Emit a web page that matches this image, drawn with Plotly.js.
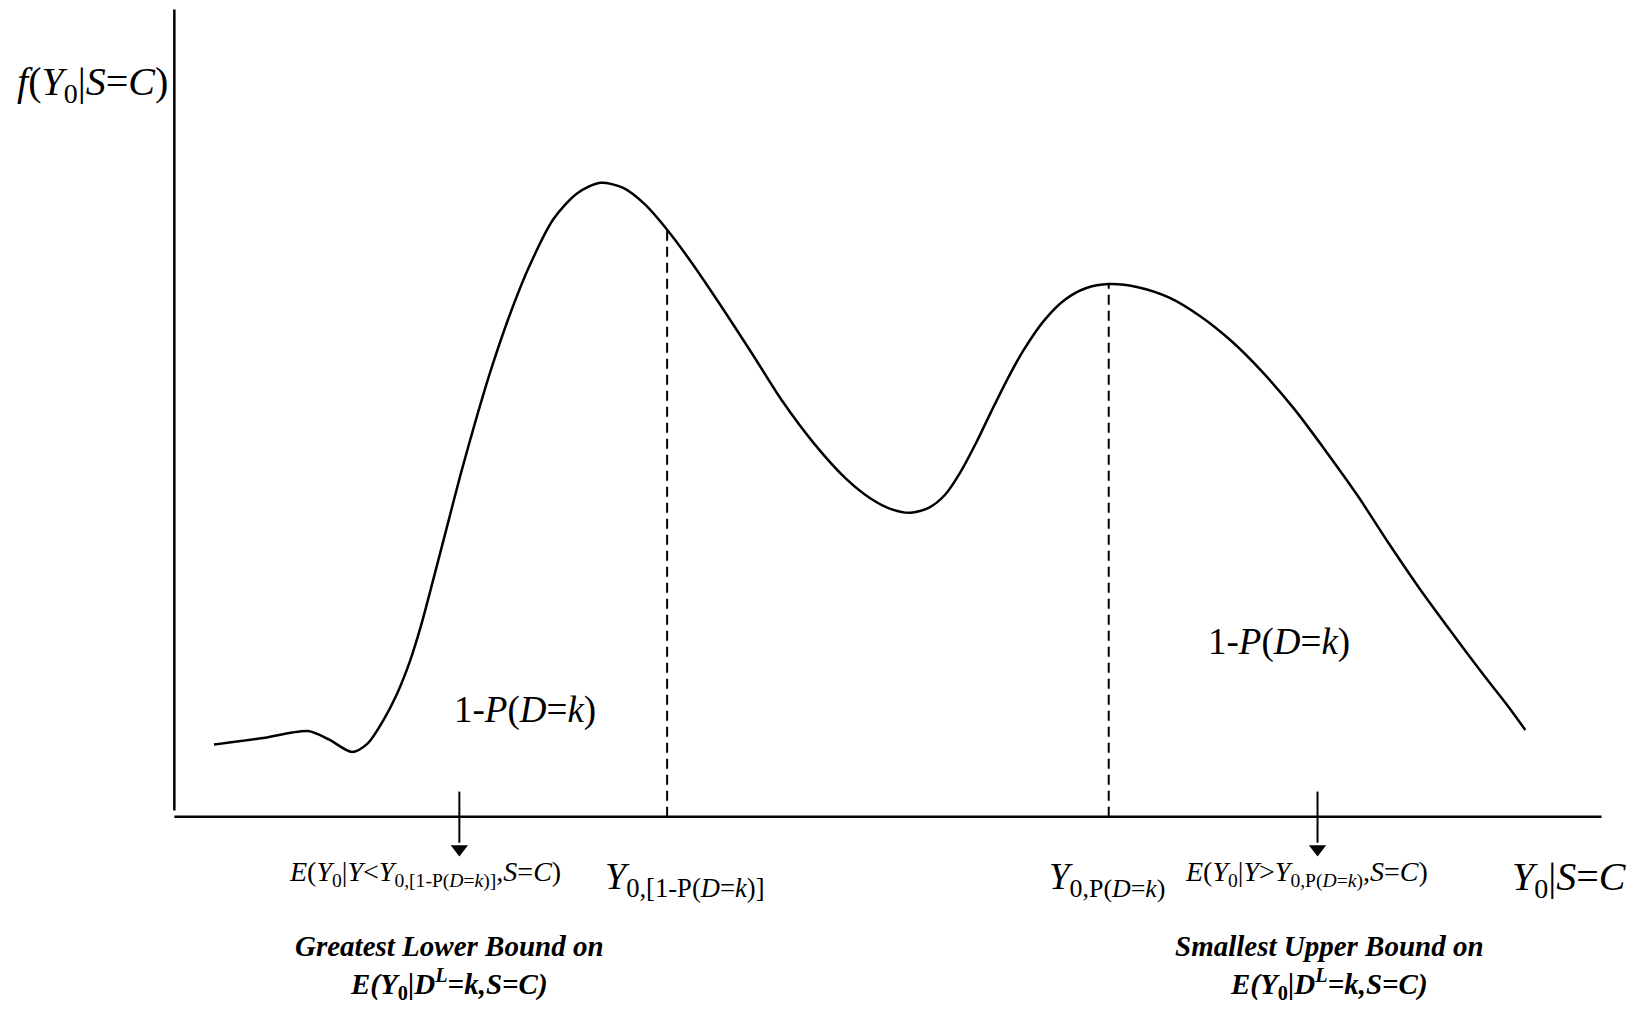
<!DOCTYPE html>
<html>
<head>
<meta charset="utf-8">
<script src="https://cdn.plot.ly/plotly-3.0.1.min.js"></script>
<style>html,body{margin:0;padding:0;background:#fff;}#chart{width:1637px;height:1013px;}</style>
</head>
<body>
<div id="chart"></div>
<script>
// Density curve f(Y0|S=C) (x: outcome, y: density)
const curveX = [38, 83, 128, 148, 170, 185, 200, 213, 225, 236, 248, 261, 274, 288, 303, 320, 340, 363, 386, 408, 430, 451, 472, 493, 523, 553, 583, 613, 643, 668, 688, 705, 723, 738, 753, 768, 783, 798, 813, 833, 853, 873, 895, 923, 953, 983, 1013, 1043, 1073, 1103, 1133, 1163, 1193, 1223, 1253, 1278, 1294];
const curveY = [69, 75, 82, 74, 62, 70, 92, 117, 147, 182, 227, 277, 327, 377, 427, 477, 527, 572, 597, 607, 602, 586, 562, 534, 490, 444, 397, 357, 324, 304, 294, 291, 296, 308, 330, 358, 389, 419, 446, 475, 495, 506, 510, 507, 497, 479, 455, 425, 390, 350, 308, 262, 218, 177, 137, 105, 83];

// Quantile markers (dashed verticals) and arrow positions
const dashX = [472, 895];
const dashTop = [562, 510];
const arrowX = [273, 1095];
const arrowTop = 24;
const arrowBottom = -25;
const arrowHead = -31;

// Axis extents
const axisXEnd = 1367;
const axisYTop = 773;
const axisYBottom = 6;

// Labels
const yAxisLabel = '<i>f</i>(<i>Y</i><sub>0</sub>|<i>S</i>=<i>C</i>)';
const xAxisLabel = '<i>Y</i><sub>0</sub>|<i>S</i>=<i>C</i>';
const massLabel = '1-<i>P</i>(<i>D</i>=<i>k</i>)';
const quantileLabels = ['<i>Y</i><sub>0,[1-P(<i>D</i>=<i>k</i>)]</sub>', '<i>Y</i><sub>0,P(<i>D</i>=<i>k</i>)</sub>'];
const expectLabels = [
  '<i>E</i>(<i>Y</i><sub>0</sub>|<i>Y</i>&lt;<i>Y</i><sub>0,[1-P(<i>D</i>=<i>k</i>)]</sub>,<i>S</i>=<i>C</i>)',
  '<i>E</i>(<i>Y</i><sub>0</sub>|<i>Y</i>&gt;<i>Y</i><sub>0,P(<i>D</i>=<i>k</i>)</sub>,<i>S</i>=<i>C</i>)'
];
const boundTitles = ['Greatest Lower Bound on', 'Smallest Upper Bound on'];
const boundExpr = '<i>E(Y</i><sub>0</sub><i>|D</i><sup><i>L</i></sup><i>=k,S=C)</i>';

const serif = '"Liberation Serif", "Times New Roman", serif';

const traces = [
  {
    x: curveX, y: curveY, type: 'scatter', mode: 'lines',
    line: {color: '#000', width: 2.5, shape: 'spline', smoothing: 0.8},
    hoverinfo: 'skip', cliponaxis: false
  },
  {
    x: arrowX, y: [arrowHead, arrowHead], type: 'scatter', mode: 'markers',
    marker: {symbol: 'triangle-down', size: 15, color: '#000', line: {width: 0}},
    hoverinfo: 'skip', cliponaxis: false
  }
];

const shapes = [
  // y axis
  {type: 'line', xref: 'x', yref: 'y', x0: 0, x1: 0, y0: axisYBottom, y1: axisYTop, line: {color: '#000', width: 2.5}},
  // x axis
  {type: 'line', xref: 'x', yref: 'y', x0: 0, x1: axisXEnd, y0: 0, y1: 0, line: {color: '#000', width: 2.5}}
];
dashX.forEach((dx, i) => {
  shapes.push({type: 'line', xref: 'x', yref: 'y', x0: dx, x1: dx, y0: 0, y1: dashTop[i],
    line: {color: '#000', width: 2, dash: '10px,6px'}});
});
arrowX.forEach(ax => {
  shapes.push({type: 'line', xref: 'x', yref: 'y', x0: ax, x1: ax, y0: arrowTop, y1: arrowBottom,
    line: {color: '#000', width: 2}});
});

const ann = (text, x, y, size, opts) => Object.assign({
  text: text, x: x, y: y, xref: 'x', yref: 'y', showarrow: false,
  xanchor: 'center', yanchor: 'middle',
  font: {family: serif, size: size, color: '#000'}
}, opts || {});

const annotations = [
  ann(yAxisLabel, -78, 702, 40),
  ann(xAxisLabel, 1336, -60, 40),
  ann(massLabel, 336, 102, 37),
  ann(massLabel, 1058, 167, 37),
  ann(quantileLabels[0], 411, -60, 38, {xanchor: 'left'}),
  ann(quantileLabels[1], 836, -60, 37, {xanchor: 'left'}),
  ann(expectLabels[0], 240, -55, 28),
  ann(expectLabels[1], 1084, -55, 28),
  ann('<b><i>' + boundTitles[0] + '</i><br>' + boundExpr + '</b>', 264, -144, 29),
  ann('<b><i>' + boundTitles[1] + '</i><br>' + boundExpr + '</b>', 1106, -144, 29)
];

const layout = {
  width: 1637, height: 1013,
  margin: {l: 0, r: 0, t: 0, b: 0, pad: 0},
  paper_bgcolor: '#fff', plot_bgcolor: '#fff',
  showlegend: false,
  xaxis: {range: [-167, 1401], visible: false, fixedrange: true},
  yaxis: {range: [-188, 782], visible: false, fixedrange: true},
  shapes: shapes,
  annotations: annotations
};

Plotly.newPlot('chart', traces, layout, {displayModeBar: false, staticPlot: true});
</script>
</body>
</html>
